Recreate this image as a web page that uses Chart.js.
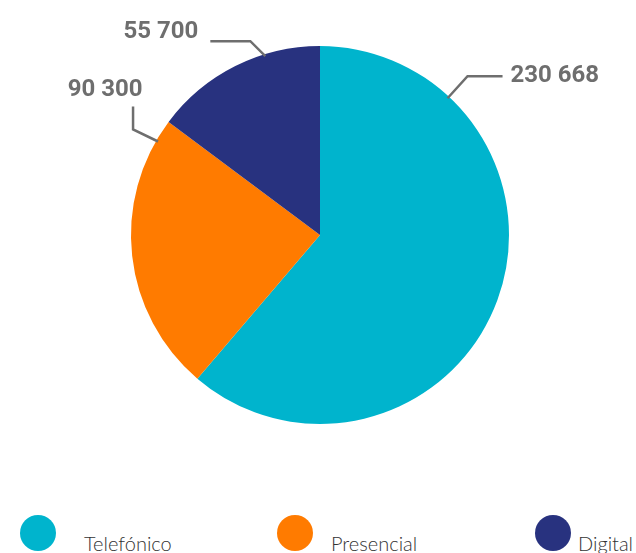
<!DOCTYPE html>
<html>
<head>
<meta charset="utf-8">
<script src="https://cdn.jsdelivr.net/npm/chart.js@4/dist/chart.umd.min.js"></script>
<style>
  html, body { margin: 0; padding: 0; background: #fff; }
  body { width: 636px; height: 553px; position: relative; overflow: hidden; font-family: Lato, sans-serif; }
  #wrap { position: absolute; left: 0; top: 0; width: 636px; height: 470px; }
  .legend-item { position: absolute; top: 513px; height: 40px; }
  .legend-dot { position: absolute; left: 0; top: 2px; width: 36px; height: 36px; border-radius: 50%; }
  .legend-text { position: absolute; top: 18px; white-space: nowrap; font-size: 20px; color: #333; font-weight: 300; }
</style>
</head>
<body>
<div id="wrap"><canvas id="pie"></canvas></div>
<div id="legend"></div>
<script>
// channel totals
const categories = ['Telefónico', 'Presencial', 'Digital'];
const values = [230668, 90300, 55700];
const colors = ['#00B4CD', '#FF7B00', '#28327F'];

// leader-line layout per slice: where it leaves the rim (degrees clockwise from 12 o'clock),
// the elbow offset from that point, the run of the outer segment and text alignment
const callouts = [
  { angle: 43,  elbow: [20, -22], run: [35, 0],  align: 'left',   text: [8, 0] },
  { angle: 300, elbow: [-25, -12], run: [0, -23], align: 'center', text: [-28, -17] },
  { angle: 343, elbow: [-15, -15], run: [-40, 0], align: 'right',  text: [-12, -9] },
];

const fmt = v => String(v).replace(/\B(?=(\d{3})+(?!\d))/g, ' ');

const calloutPlugin = {
  id: 'callouts',
  afterDatasetsDraw(chart) {
    const ctx = chart.ctx;
    const arcs = chart.getDatasetMeta(0).data;
    ctx.save();
    ctx.strokeStyle = '#6e6e6e';
    ctx.lineWidth = 2.5;
    ctx.fillStyle = '#6e6e6e';
    ctx.font = 'bold 24px Roboto, sans-serif';
    ctx.textBaseline = 'middle';
    arcs.forEach((arc, i) => {
      const c = callouts[i];
      const a = (c.angle - 90) * Math.PI / 180;
      const r = arc.outerRadius - 2;
      const x0 = arc.x + Math.cos(a) * r;
      const y0 = arc.y + Math.sin(a) * r;
      const x1 = x0 + c.elbow[0], y1 = y0 + c.elbow[1];
      const x2 = x1 + c.run[0], y2 = y1 + c.run[1];
      ctx.beginPath();
      ctx.moveTo(x0, y0);
      ctx.lineTo(x1, y1);
      ctx.lineTo(x2, y2);
      ctx.stroke();
      ctx.textAlign = c.align;
      ctx.fillText(fmt(values[i]), x2 + c.text[0], y2 + c.text[1]);
    });
    ctx.restore();
  }
};

new Chart(document.getElementById('pie'), {
  type: 'pie',
  data: {
    labels: categories,
    datasets: [{
      data: values,
      backgroundColor: colors,
      borderWidth: 0,
    }]
  },
  options: {
    responsive: true,
    maintainAspectRatio: false,
    animation: false,
    layout: { padding: { top: 46, bottom: 46, left: 4, right: 0 } },
    plugins: {
      legend: { display: false },
      tooltip: { enabled: false },
    }
  },
  plugins: [calloutPlugin]
});

// legend row along the bottom
const legendPos = [[20, 84], [277, 331], [535, 578]];
const legendEl = document.getElementById('legend');
categories.forEach((name, i) => {
  const item = document.createElement('div');
  item.className = 'legend-item';
  item.style.left = legendPos[i][0] + 'px';
  item.innerHTML = `<div class="legend-dot" style="background:${colors[i]}"></div>` +
    `<div class="legend-text" style="left:${legendPos[i][1] - legendPos[i][0]}px">${name}</div>`;
  legendEl.appendChild(item);
});
</script>
</body>
</html>
